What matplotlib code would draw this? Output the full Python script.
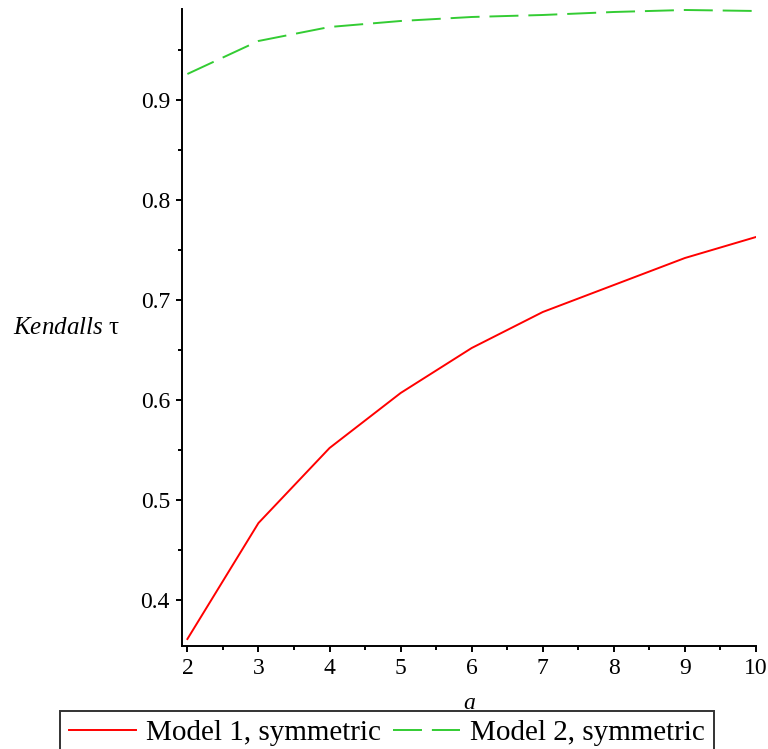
import numpy as np
import matplotlib
matplotlib.use("Agg")
import matplotlib.pyplot as plt
from matplotlib.ticker import MultipleLocator

plt.rcParams['font.family'] = ['Liberation Serif', 'DejaVu Serif']
plt.rcParams['mathtext.fontset'] = 'custom'
plt.rcParams['mathtext.rm'] = 'Liberation Serif'
plt.rcParams['mathtext.it'] = 'Liberation Serif:italic'

# values
a_vals = [2, 3, 4, 5, 6, 7, 8, 9, 10]
tau_model1 = [0.361, 0.477, 0.552, 0.607, 0.652, 0.688, 0.715, 0.742, 0.763]
tau_model2 = [0.926, 0.959, 0.973, 0.979, 0.983, 0.985, 0.988, 0.990, 0.989]
labels = ["Model 1, symmetric", "Model 2, symmetric"]

fig = plt.figure(figsize=(7.68, 7.49), dpi=100)
ax = fig.add_axes([0.2366, 0.1379, 0.7478, 0.8497])

ax.plot(a_vals, tau_model1, color='#ff0000', lw=1.4, label=labels[0])
ax.plot(a_vals, tau_model2, color='#33cc33', lw=1.4, dashes=(14.9, 5.1), label=labels[1])

ax.set_xlim(1.92, 10)
ax.set_ylim(0.3543, 0.9907)

for s in ['top', 'right']:
    ax.spines[s].set_visible(False)
for s in ['left', 'bottom']:
    ax.spines[s].set_linewidth(1.4)
ax.spines['bottom'].set_bounds(1.92, 10)

ax.xaxis.set_major_locator(MultipleLocator(1))
ax.xaxis.set_minor_locator(MultipleLocator(0.5))
ax.yaxis.set_major_locator(MultipleLocator(0.1))
ax.yaxis.set_minor_locator(MultipleLocator(0.05))
ax.tick_params(which='major', length=4.5, width=1.4, labelsize=17, pad=4)
ax.tick_params(which='minor', length=3, width=1.4)
ax.set_xticks([2, 3, 4, 5, 6, 7, 8, 9, 10])
ax.set_xticklabels(['2', '3', '4', '5', '6', '7', '8', '9', '10'])
ax.set_yticks([0.4, 0.5, 0.6, 0.7, 0.8, 0.9])
ax.set_yticklabels(['0.4', '0.5', '0.6', '0.7', '0.8', '0.9'])

ax.set_xlabel('a', fontsize=17, style='italic', va='baseline')
ax.xaxis.set_label_coords(0.5, -0.0995)
ax.set_ylabel(r'$\mathit{Kendalls}$ τ', fontsize=18, rotation=0, ha='center', va='center')
ax.yaxis.set_label_coords(-0.2015, 0.499)

leg = fig.legend(loc='upper center', bbox_to_anchor=(0.504, 1 - 711 / 749), ncol=2,
                 fontsize=21, frameon=True, fancybox=False, handlelength=2.3,
                 handletextpad=0.35, columnspacing=0.4, borderpad=0.3, borderaxespad=0)
leg.get_frame().set_edgecolor('black')
leg.get_frame().set_linewidth(1.4)

fig.savefig('out.png', dpi=100)
